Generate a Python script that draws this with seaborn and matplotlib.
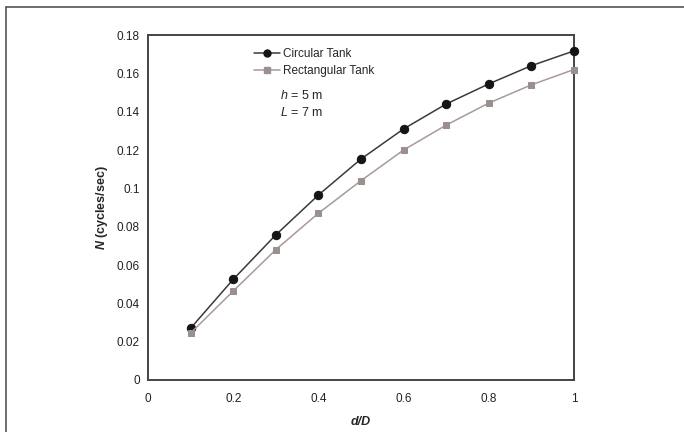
import matplotlib
matplotlib.use("Agg")
import matplotlib.pyplot as plt
import seaborn as sns
import pandas as pd
from matplotlib.lines import Line2D

d_over_D = [0.1, 0.2, 0.3, 0.4, 0.5, 0.6, 0.7, 0.8, 0.9, 1.0]
circular = [0.027, 0.0525, 0.0757, 0.0965, 0.1153, 0.131, 0.144, 0.1545, 0.164, 0.1717]
rectangular = [0.0245, 0.0464, 0.068, 0.087, 0.104, 0.12, 0.133, 0.1445, 0.154, 0.162]
series_names = ["Circular Tank", "Rectangular Tank"]
x_ticks = [0, 0.2, 0.4, 0.6, 0.8, 1]
x_ticklabels = ["0", "0.2", "0.4", "0.6", "0.8", "1"]
y_ticks = [0, 0.02, 0.04, 0.06, 0.08, 0.1, 0.12, 0.14, 0.16, 0.18]
y_ticklabels = ["0", "0.02", "0.04", "0.06", "0.08", "0.1", "0.12", "0.14", "0.16", "0.18"]

df = pd.DataFrame({
    "x": d_over_D * 2,
    "N": circular + rectangular,
    "series": [series_names[0]] * len(d_over_D) + [series_names[1]] * len(d_over_D),
})

sns.set_style("white")
plt.rcParams["font.family"] = ["Liberation Sans", "DejaVu Sans"]
plt.rcParams["mathtext.fontset"] = "custom"
plt.rcParams["mathtext.bf"] = "Liberation Sans:italic:bold"
plt.rcParams["mathtext.it"] = "Liberation Sans:italic"
plt.rcParams["mathtext.rm"] = "Liberation Sans"

fig = plt.figure(figsize=(6.84, 4.32), dpi=100)
ax = fig.add_axes([148 / 684, 1 - 380 / 432, (574 - 148) / 684, (380 - 35) / 432])

line_colors = {series_names[0]: "#3a3a3a", series_names[1]: "#a89a96"}
marker_colors = {series_names[0]: "#151515", series_names[1]: "#9a9090"}
markers = {series_names[0]: "o", series_names[1]: "s"}
msizes = {series_names[0]: 6, series_names[1]: 5}

for name in series_names:
    sub = df[df["series"] == name]
    sns.lineplot(data=sub, x="x", y="N", ax=ax, color=line_colors[name],
                 linewidth=1.1, marker=markers[name], markersize=msizes[name],
                 markerfacecolor=marker_colors[name], markeredgecolor=marker_colors[name],
                 legend=False, clip_on=False, zorder=3)

ax.set_xlim(0, 1)
ax.set_ylim(0, 0.18)
ax.set_xticks(x_ticks)
ax.set_xticklabels(x_ticklabels)
ax.set_yticks(y_ticks)
ax.set_yticklabels(y_ticklabels)
ax.tick_params(axis="both", length=0, labelsize=8.5, colors="#222222", pad=6)
ax.tick_params(axis="x", pad=9)
for sp in ax.spines.values():
    sp.set_color("#444444")
    sp.set_linewidth(1.4)

ax.set_xlabel("d/D", fontsize=9, fontstyle="italic", fontweight="bold", labelpad=8)
ax.set_ylabel(r"$\mathbf{N}$ (cycles/sec)", fontsize=9, fontweight="bold", labelpad=5)

handles = [
    Line2D([], [], color=line_colors[n], marker=markers[n], markersize=5,
           markerfacecolor=marker_colors[n], markeredgecolor=marker_colors[n], linewidth=1.1)
    for n in series_names
]
leg = ax.legend(handles, series_names, loc="upper left", bbox_to_anchor=(0.237, 0.976),
                frameon=False, fontsize=8.5, handlelength=2.2, handletextpad=0.3,
                labelspacing=0.45, borderaxespad=0)

ax.text(0.31, 0.824, r"$h$ = 5 m", transform=ax.transAxes, fontsize=9, va="center")
ax.text(0.31, 0.774, r"$L$ = 7 m", transform=ax.transAxes, fontsize=9, va="center")

fig.add_artist(Line2D([6 / 684, 6 / 684], [0, 1 - 7 / 432], transform=fig.transFigure,
                      color="#555555", linewidth=1.2))
fig.add_artist(Line2D([6 / 684, 1], [1 - 7 / 432, 1 - 7 / 432], transform=fig.transFigure,
                      color="#555555", linewidth=1.2))

fig.savefig("out.png", dpi=100)
